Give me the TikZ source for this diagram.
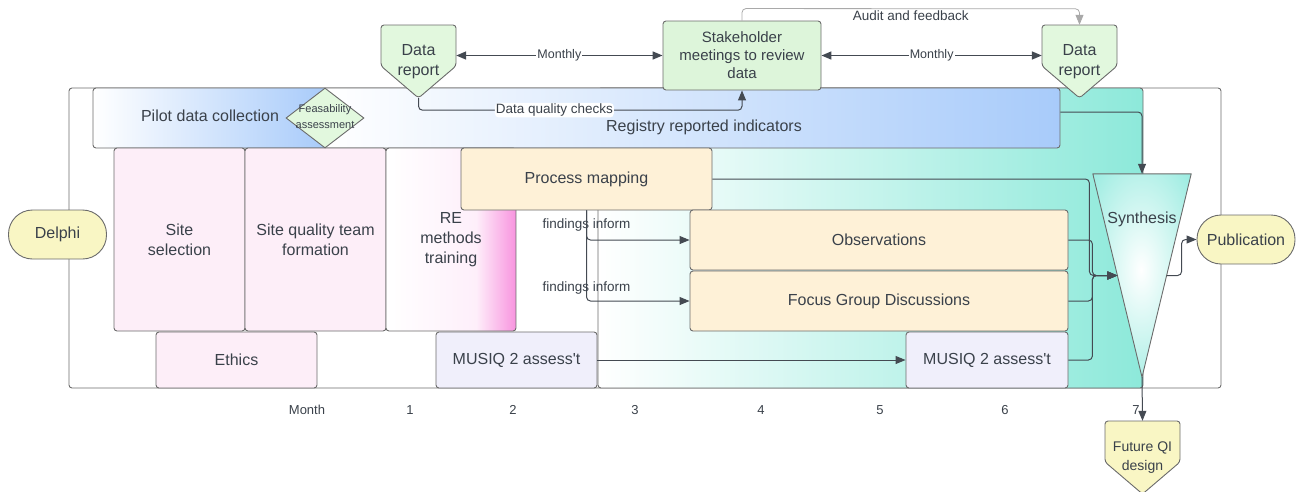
\documentclass[tikz,border=0pt]{standalone}
\usepackage{fontspec}
\setmainfont{Liberation Sans}[Ligatures=TeXOff]
\usetikzlibrary{calc,positioning,shapes.geometric,arrows.meta}
\definecolor{edgegrey}{HTML}{6B6B6B}
\definecolor{wiregrey}{HTML}{444A52}
\definecolor{labelgrey}{HTML}{3A414A}
\definecolor{auditgrey}{HTML}{A9A9A9}
\definecolor{reportgreen}{HTML}{E2F8DE}
\definecolor{meetgreen}{HTML}{DDF5DA}
\definecolor{taskorange}{HTML}{FEF1D7}
\definecolor{setuppink}{HTML}{FDEEF8}
\definecolor{assesslilac}{HTML}{F0EFFB}
\definecolor{endyellow}{HTML}{F9F6C4}
\definecolor{pilotblue}{HTML}{A8CBFA}
\definecolor{zoneteal}{HTML}{8DE9DA}
\definecolor{synthteal}{HTML}{6DE3D3}
\definecolor{remagenta}{HTML}{F894DF}

\tikzset{
  box/.style={draw=edgegrey, line width=0.9pt, rounded corners=3pt, align=center,
    text=labelgrey, inner sep=0pt, font=\fontsize{16}{20}\selectfont},
  stadium/.style={box, fill=endyellow, rounded corners=24pt, minimum width=98pt, minimum height=49pt},
  report/.style={draw=edgegrey, line width=0.9pt, rounded corners=3pt, fill=reportgreen},
  plain/.style={text=labelgrey, align=center, inner sep=1pt, font=\fontsize{16}{20}\selectfont},
  small/.style={text=labelgrey, align=center, inner sep=1pt, font=\fontsize{13.5}{16}\selectfont},
  wire/.style={draw=wiregrey, line width=1pt, rounded corners=4pt, ->},
  monthly/.style={draw=wiregrey, line width=1.6pt, <->},
  audit/.style={draw=auditgrey, line width=0.8pt, rounded corners=4pt, ->},
}

\begin{document}
\begin{tikzpicture}[x=1pt, y=-1pt, >={Triangle[length=10pt,width=8pt]}]
  \useasboundingbox (0,0) rectangle (1297,491);

  % frame and analysis zone
  \node[box, minimum width=1152pt, minimum height=300pt] (frame) at (645,238) {};
  \node[box, left color=white, right color=zoneteal, minimum width=545pt, minimum height=300pt] (zone) at (870.5,238) {};

  % pilot bar
  \begin{scope}
    \clip[rounded corners=3pt] (93,88) rectangle (1060,148);
    \shade[left color=white, right color=pilotblue] (93,88) rectangle (326,148);
    \shade[left color=white, right color=pilotblue] (325,88) rectangle (1060,148);
  \end{scope}
  \node[box, minimum width=967pt, minimum height=60pt] (pilot) at (576.5,118) {};
  \node[plain] (pilottext) at (210,116) {Pilot data collection};
  \node[plain] (registry) at (704,127) {Registry reported indicators};

  % set-up phase
  \node[box, fill=setuppink, minimum width=131pt, minimum height=183pt] (site) at (179.5,239.5) {Site\\selection};
  \node[box, fill=setuppink, minimum width=141pt, minimum height=183pt] (team) at (315.5,239.5) {Site quality team\\formation};
  \begin{scope}
    \clip[rounded corners=3pt] (386,148) rectangle (516,331);
    \shade[left color=white, right color=remagenta!15] (386,148) rectangle (477,331);
    \shade[left color=remagenta!15, right color=remagenta] (476,148) rectangle (516,331);
  \end{scope}
  \node[box, minimum width=130pt, minimum height=183pt] (retrain) at (451,239.5) {RE\\methods\\training};
  \node[box, fill=setuppink, minimum width=161pt, minimum height=56pt] (ethics) at (236.5,360) {Ethics};
  \node[box, fill=assesslilac, minimum width=161pt, minimum height=56pt] (musiqA) at (516.5,360) {MUSIQ 2 assess't};

  % fieldwork
  \node[box, fill=taskorange, minimum width=251pt, minimum height=62pt] (procmap) at (586.5,179) {Process mapping};
  \node[box, fill=taskorange, minimum width=378pt, minimum height=60pt] (observ) at (879,240) {Observations};
  \node[box, fill=taskorange, minimum width=378pt, minimum height=60pt] (fgd) at (879,301) {Focus Group Discussions};
  \node[box, fill=assesslilac, minimum width=162pt, minimum height=56pt] (musiqB) at (987,360) {MUSIQ 2 assess't};

  % synthesis funnel
  \node[minimum width=98pt, minimum height=203pt, inner sep=0pt] (synth) at (1142,275.5) {};
  \begin{scope}
    \clip (synth.north west) -- (synth.north east) -- (synth.south) -- cycle;
    \shade[inner color=white, outer color=synthteal] (1041,70) rectangle (1241,470);
  \end{scope}
  \draw[draw=edgegrey, line width=0.9pt, line join=round] (synth.north west) -- (synth.north east) -- (synth.south) -- cycle;
  \node[plain] (synthtext) at (1142,219) {Synthesis};
  \coordinate (synthin) at ($(synth.north west)!0.5!(synth.south)$);
  \coordinate (synthout) at ($(synth.north east)!0.5!(synth.south)$);

  % start and end points
  \node[stadium] (delphi) at (57.5,234.5) {Delphi};
  \node[stadium] (publ) at (1246,239.5) {Publication};
  \draw[report, fill=endyellow] (1105,421) -- (1180,421) -- (1180,462) -- (1142.5,494) -- (1105,462) -- cycle;
  \node[plain, font=\fontsize{14}{19}\selectfont, minimum width=75pt, minimum height=73pt, inner sep=0pt] (future) at (1142.5,457.5) {Future QI\\design};

  % reporting loop
  \draw[report] (381,25) -- (456,25) -- (456,66) -- (418.5,98) -- (381,66) -- cycle;
  \node[plain, minimum width=75pt, minimum height=73pt, inner sep=0pt] (reportA) at (418.5,61.5) {Data\\report};
  \draw[report] (1042,25) -- (1117,25) -- (1117,66) -- (1079.5,98) -- (1042,66) -- cycle;
  \node[plain, minimum width=75pt, minimum height=73pt, inner sep=0pt] (reportB) at (1079.5,61.5) {Data\\report};
  \node[box, fill=meetgreen, font=\fontsize{15}{18}\selectfont, minimum width=158pt, minimum height=69pt] (meeting) at (742,55.5) {Stakeholder\\meetings to review\\data};
  \node[diamond, draw=edgegrey, line width=0.9pt, fill=reportgreen, minimum width=78pt, minimum height=60pt, inner sep=0pt] (feas) at (325,118) {};
  \node[text=labelgrey, align=center, inner sep=0pt, font=\fontsize{11}{16}\selectfont] (feastext) at (325,116.5) {Feasability\\assessment};

  % connectors
  \draw[monthly] (reportA.east |- meeting.west) -- node[fill=white, inner sep=1pt, text=labelgrey, font=\fontsize{12.5}{15}\selectfont] (monthA) {Monthly} (meeting.west);
  \draw[monthly] (meeting.east) -- node[fill=white, inner sep=1pt, text=labelgrey, font=\fontsize{12.5}{15}\selectfont] (monthB) {Monthly} (meeting.east -| reportB.west);
  \draw[audit] (meeting.north) -- ++(0,-12) -- node[small, below=1pt] (auditlbl) {Audit and feedback} ($(reportB.north)+(0,-16)$) -- (reportB.north);
  \draw[wire] (reportA.south) -- ++(0,12) -| node[small, pos=0.21, fill=white] (dqlbl) {Data quality checks} (meeting.south);
  \draw[wire] ($(pilot.east)+(0,-6)$) -| (synth.north);
  \draw[wire] (procmap.east) -| ($(synthin)+(-28,0)$) -- (synthin);
  \foreach \src in {observ,fgd,musiqB}
    \draw[wire] (\src.east) -| ($(synthin)+(-25,0)$) -- (synthin);
  \draw[wire] (procmap.south) |- node[small, pos=0.25] (findA) {findings inform} (observ.west);
  \draw[wire] (procmap.south) |- node[small, pos=0.43] (findB) {findings inform} (fgd.west);
  \draw[wire] (musiqA.east) -- (musiqB.west);
  \draw[wire] (synthout) -- ++(15,0) |- (publ.west);
  \draw[wire] (synth.south) -- (future.north);

  % month axis
  \node[text=labelgrey, font=\fontsize{13}{15}\selectfont] (month) at (307,410) {Month};
  \foreach \m/\x in {1/410,2/513,3/635,4/761,5/880,6/1005,7/1136}
    \node[text=labelgrey, font=\fontsize{13}{15}\selectfont] (month\m) at (\x,410) {\m};
\end{tikzpicture}
\end{document}
